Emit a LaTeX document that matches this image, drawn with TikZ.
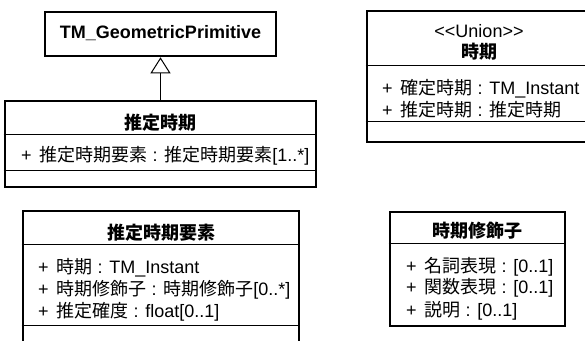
\documentclass[tikz,border=0pt]{standalone}
\usepackage{fontspec}
\setmainfont{Liberation Sans}
\newfontfamily\cjk{Noto Sans CJK JP}
\newcommand\JP[1]{{\cjk #1}}
\usetikzlibrary{arrows.meta}
\begin{document}
\begin{tikzpicture}[x=1pt,y=-1pt,
  cls/.style={draw=black,line width=2.6pt,rectangle,inner sep=0pt,fill=white},
  div/.style={line width=0.9pt},
  ttl/.style={anchor=base,inner sep=0pt,font=\fontsize{18}{20}\selectfont\bfseries},
  attr/.style={anchor=base west,inner sep=0pt,font=\fontsize{18}{20}\selectfont},
  genl/.style={line width=1pt,-{Triangle[open,length=16pt,width=20pt,line width=1pt]}}]
\useasboundingbox (0,0) rectangle (585,340);
\clip (0,0) rectangle (585,340);
% boxes
\node[cls,minimum width=231pt,minimum height=44pt] (A) at (160.5,34) {};
\node[cls,minimum width=311pt,minimum height=86pt] (B) at (160.5,144) {};
\node[cls,minimum width=224pt,minimum height=131pt] (C) at (479,76.5) {};
\node[cls,minimum width=276pt,minimum height=150pt] (D) at (161,286) {};
\node[cls,minimum width=175pt,minimum height=114pt] (E) at (477.5,269) {};
% dividers
\draw[div] ([yshift=-35pt]B.north west) -- ([yshift=-35pt]B.north east);
\draw[div] ([yshift=-71pt]B.north west) -- ([yshift=-71pt]B.north east);
\draw[div] ([yshift=-56pt]C.north west) -- ([yshift=-56pt]C.north east);
\draw[div] ([yshift=-112pt]C.north west) -- ([yshift=-112pt]C.north east);
\draw[div] ([yshift=-35pt]D.north west) -- ([yshift=-35pt]D.north east);
\draw[div] ([yshift=-116pt]D.north west) -- ([yshift=-116pt]D.north east);
\draw[div] ([yshift=-33pt]E.north west) -- ([yshift=-33pt]E.north east);
% generalization
\draw[genl] (B.north) -- (A.south);
% texts
\node[ttl] (At) at (160.5,38) {TM\_GeometricPrimitive};
\node[ttl] (Bt) at (160.5,129) {\JP{推定時期}};
\node[attr] (Ba) at (21,161) {+\hspace{8pt}\JP{推定時期要素} : \JP{推定時期要素}[1..*]};
\node[ttl,font=\fontsize{18}{20}\selectfont] (Cs) at (479,37) {<\kern0pt<Union>\kern0pt>};
\node[ttl] (Ct) at (479,58) {\JP{時期}};
\node[attr] (Ca1) at (382,94) {+\hspace{8pt}\JP{確定時期} : TM\_Instant};
\node[attr] (Ca2) at (382,116) {+\hspace{8pt}\JP{推定時期} : \JP{推定時期}};
\node[ttl] (Dt) at (161,239) {\JP{推定時期要素}};
\node[attr] (Da1) at (38,273) {+\hspace{8pt}\JP{時期} : TM\_Instant};
\node[attr] (Da2) at (38,295) {+\hspace{8pt}\JP{時期修飾子} : \JP{時期修飾子}[0..*]};
\node[attr] (Da3) at (38,317) {+\hspace{8pt}\JP{推定確度} : float[0..1]};
\node[ttl] (Et) at (477.5,237) {\JP{時期修飾子}};
\node[attr] (Ea1) at (406,272) {+\hspace{8pt}\JP{名詞表現} : [0..1]};
\node[attr] (Ea2) at (406,293) {+\hspace{8pt}\JP{関数表現} : [0..1]};
\node[attr] (Ea3) at (406,316) {+\hspace{8pt}\JP{説明} : [0..1]};
\end{tikzpicture}
\end{document}
